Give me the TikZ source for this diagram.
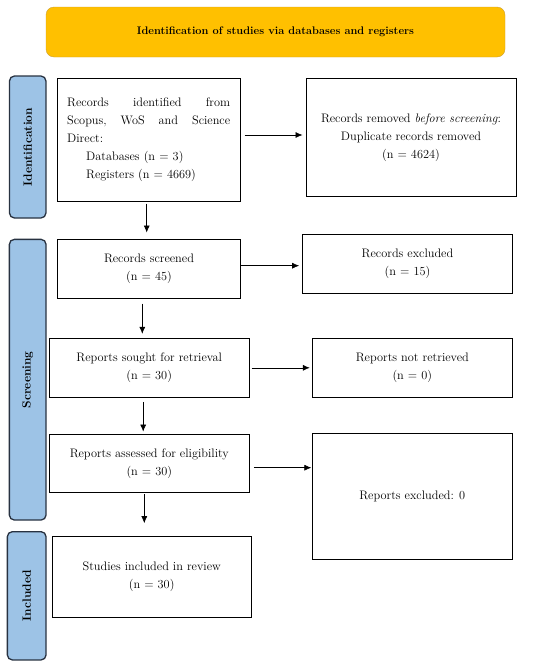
\documentclass[tikz,border=0pt]{standalone}
\usepackage{tikz}
\usetikzlibrary{arrows.meta}
\definecolor{bannerfill}{RGB}{255,192,0}
\definecolor{bannerline}{RGB}{205,160,50}
\definecolor{barfill}{RGB}{157,195,230}
\definecolor{barline}{RGB}{40,50,65}
\tikzset{my box/.style={
  draw,
  line width=1pt,
  align=center,
  inner sep=2pt,
  font=\fontsize{12.3}{18}\selectfont
  }
}
\tikzset{my bar/.style={
  draw=barline,
  fill=barfill,
  line width=1.3pt,
  rounded corners=5pt,
  rotate=90,
  font=\bfseries\fontsize{12}{14}\selectfont
  }
}
\tikzset{my arrow/.style={
  black,
  line width=0.6pt,
  -{Latex[length=7pt,width=6pt]}
  }
}

\begin{document}
\begin{tikzpicture}[x=1pt,y=-1pt]
    \useasboundingbox (0,0) rectangle (550,667);

    \node[draw=bannerline,fill=bannerfill,rounded corners=8pt,minimum width=459pt,minimum height=50pt,font=\bfseries\fontsize{11}{13}\selectfont] (banner) at (275.5,32) {Identification of studies via databases and registers};

    % phase bars
    \node[my bar,minimum width=142pt,minimum height=36.5pt] (idbar) at (27.7,147) {Identification};
    \node[my bar,minimum width=280.7pt,minimum height=36.7pt] (scrbar) at (27.7,379.7) {Screening};
    \node[my bar,minimum width=128.3pt,minimum height=38.7pt] (incbar) at (26.7,595.8) {Included};

    % left column
    \node[my box,minimum width=182.7pt,minimum height=122.7pt,text width=163pt,align=left] (recid) at (148.7,139.7) {Records\hfill identified\hfill from\\ Scopus,\hfill WoS\hfill and\hfill Science\\ Direct:\\ \hspace*{19pt}Databases (n = 3)\\ \hspace*{19pt}Registers (n = 4669)};
    \node[my box,minimum width=183.3pt,minimum height=59pt] (screened) at (149,268.5) {Records screened\\(n = 45)};
    \node[my box,minimum width=199.7pt,minimum height=59pt] (sought) at (149.2,367.8) {Reports sought for retrieval\\(n = 30)};
    \node[my box,minimum width=200pt,minimum height=58.7pt] (assessed) at (149.3,463.4) {Reports assessed for eligibility\\(n = 30)};
    \node[my box,minimum width=199.3pt,minimum height=80.6pt] (included) at (151.7,577) {Studies included in review\\(n = 30)};

    % right column
    \node[my box,minimum width=210pt,minimum height=118.4pt] (removed) at (411,137.5) {Records removed \textit{before screening}:\\Duplicate records removed\\(n = 4624)};
    \node[my box,minimum width=209.7pt,minimum height=58.7pt] (excluded) at (407.5,264) {Records excluded\\(n = 15)};
    \node[my box,minimum width=200pt,minimum height=59pt] (notretr) at (412.3,367.8) {Reports not retrieved\\(n = 0)};
    \node[my box,minimum width=200pt,minimum height=125.7pt] (repexcl) at (412.3,496.2) {Reports excluded: 0};

    % down arrows
    \draw[my arrow,shorten <=2pt,shorten >=6pt] ([xshift=-2pt]recid.south) -- ([xshift=-2pt]recid.south |- screened.north);
    \draw[my arrow,shorten <=5pt,shorten >=4pt] ([xshift=-6.7pt]screened.south) -- ([xshift=-6.7pt]screened.south |- sought.north);
    \draw[my arrow,shorten <=4pt,shorten >=2pt] ([xshift=-6pt]sought.south) -- ([xshift=-6pt]sought.south |- assessed.north);
    \draw[my arrow,shorten <=1pt,shorten >=13pt] ([xshift=-5pt]assessed.south) -- ([xshift=-5pt]assessed.south |- included.north);

    % side arrows
    \draw[my arrow,shorten <=4pt,shorten >=3pt] ([yshift=4.7pt]recid.east) -- ([yshift=4.7pt]recid.east -| removed.west);
    \draw[my arrow,shorten >=3pt] ([yshift=2.8pt]screened.east) -- ([yshift=2.8pt]screened.east -| excluded.west);
    \draw[my arrow,shorten <=2pt,shorten >=2pt] (sought.east) -- (sought.east -| notretr.west);
    \draw[my arrow,shorten <=4pt,shorten >=0.5pt] ([yshift=-4.3pt]assessed.east) -- ([yshift=-4.3pt]assessed.east -| repexcl.west);
\end{tikzpicture}
\end{document}
